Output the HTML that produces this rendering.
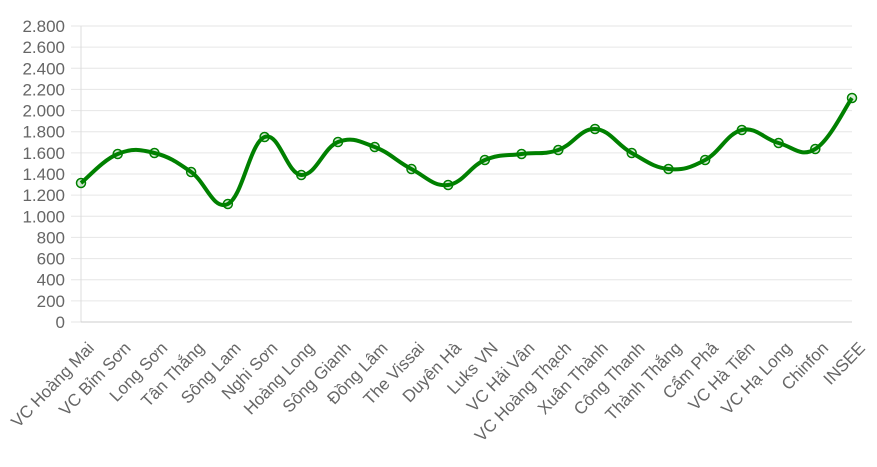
<!DOCTYPE html><html><head><meta charset="utf-8"><style>
body{margin:0;background:#fff;}
text{font-family:"Liberation Sans",sans-serif;fill:#666;}
</style></head><body>
<svg id="s" width="877" height="462" xmlns="http://www.w3.org/2000/svg"></svg>
<script>
var s=document.getElementById('s'),h='';
var x0=81,x1=852,y0=322,y1=26;
for(var i=0;i<=14;i++){var y=y0-(y0-y1)*i/14;
h+='<line x1="71" x2="852" y1="'+y+'" y2="'+y+'" stroke="#e6e6e6" stroke-width="1"/>';
var v=i*200;var l=v>=1000?Math.floor(v/1000)+'.'+String(v%1000).padStart(3,'0'):String(v);
h+='<text x="65" y="'+(y+6)+'" text-anchor="end" font-size="17">'+l+'</text>';}
h+='<line x1="81" x2="81" y1="26" y2="322" stroke="#ddd"/><line x1="81" x2="852" y1="322" y2="322" stroke="#ccc"/>';
var n=["VC Hoàng Mai","VC Bỉm Sơn","Long Sơn","Tân Thắng","Sông Lam","Nghi Sơn","Hoàng Long","Sông Gianh","Đồng Lâm","The Vissai","Duyên Hà","Luks VN","VC Hải Vân","VC Hoàng Thạch","Xuân Thành","Công Thanh","Thành Thắng","Cẩm Phả","VC Hà Tiên","VC Hạ Long","Chinfon","INSEE"];
var ys=[183,154,153,172,204,137,175,142,147,169,185,160,154,150,129,153,169,160,130,143,149,98];
var p=[];for(var i=0;i<22;i++){var x=x0+(x1-x0)*i/21;p.push([x,ys[i]]);
h+='<text transform="translate('+(x+14)+',349) rotate(-46)" text-anchor="end" font-size="17">'+n[i]+'</text>';}
var d='M'+p[0][0]+','+p[0][1],t=0.2;
for(var i=0;i<21;i++){var a=p[Math.max(i-1,0)],b=p[i],c=p[i+1],e=p[Math.min(i+2,21)];
d+=' C'+(b[0]+(c[0]-a[0])*t)+','+(b[1]+(c[1]-a[1])*t)+' '+(c[0]-(e[0]-b[0])*t)+','+(c[1]-(e[1]-b[1])*t)+' '+c[0]+','+c[1];}
h+='<path d="'+d+'" fill="none" stroke="#008000" stroke-width="4"/>';
p.forEach(function(q){h+='<circle cx="'+q[0]+'" cy="'+q[1]+'" r="4.5" fill="rgba(0,128,0,0.15)" stroke="#008000" stroke-width="1.5"/>';});
s.innerHTML=h;
</script></body></html>
